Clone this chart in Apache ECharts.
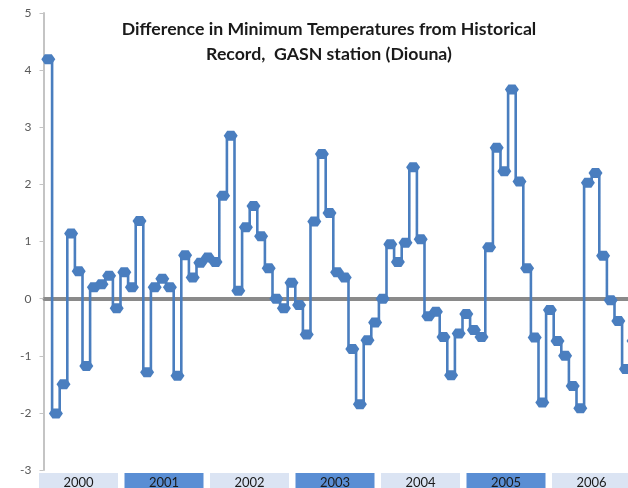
<!DOCTYPE html>
<html>
<head>
<meta charset="utf-8">
<script src="https://cdn.jsdelivr.net/npm/echarts@6/dist/echarts.min.js"></script>
<style>
html,body{margin:0;padding:0;background:#fff;}
#c{width:628px;height:488px;}
</style>
</head>
<body>
<div id="c"></div>
<script>
// Monthly difference values (deg C)
var values = [
  4.19, -2.01, -1.50, 1.14, 0.48, -1.18, 0.20, 0.25, 0.40, -0.17, 0.46, 0.20,
  1.36, -1.29, 0.20, 0.35, 0.20, -1.35, 0.76, 0.37, 0.63, 0.72, 0.64, 1.80,
  2.85, 0.14, 1.25, 1.62, 1.09, 0.53, 0.00, -0.17, 0.28, -0.11, -0.63, 1.35,
  2.53, 1.50, 0.46, 0.37, -0.88, -1.85, -0.73, -0.42, 0.00, 0.95, 0.64, 0.98,
  2.30, 1.04, -0.31, -0.23, -0.67, -1.34, -0.61, -0.27, -0.55, -0.67, 0.90, 2.64,
  2.23, 3.66, 2.05, 0.53, -0.68, -1.82, -0.20, -0.74, -1.00, -1.53, -1.92, 2.03,
  2.20, 0.75, -0.03, -0.39, -1.23, -0.74
];
var years = ['2000', '2001', '2002', '2003', '2004', '2005', '2006'];
var months = [];
for (var i = 0; i < values.length; i++) {
  var y = 2000 + Math.floor(i / 12);
  var m = (i % 12) + 1;
  months.push(y + '-' + (m < 10 ? '0' + m : m));
}
var yTicks = { min: -3, max: 5, interval: 1 };
var titleText = 'Difference in Minimum Temperatures from Historical\nRecord,  GASN station (Diouna)';

var chart = echarts.init(document.getElementById('c'), null, { renderer: 'canvas' });
var band = 7.6;
var gridLeft = 44.5;
var gridWidth = band * months.length;
var yearBand = 85.5;
var yearLeft = 35.75;

chart.setOption({
  animation: false,
  backgroundColor: '#ffffff',
  title: {
    text: titleText,
    left: 324,
    top: 12,
    textAlign: 'center',
    textStyle: {
      fontFamily: 'Lato',
      fontWeight: 'bold',
      fontSize: 17.7,
      color: '#1a1a1a',
      lineHeight: 25
    }
  },
  grid: [
    { left: gridLeft, top: 13, width: gridWidth, height: 457, containLabel: false, outerBoundsMode: 'none' },
    { left: yearLeft, top: 470, width: yearBand * years.length, height: 2, containLabel: false, outerBoundsMode: 'none' }
  ],
  xAxis: [
    {
      type: 'category',
      gridIndex: 0,
      data: months,
      boundaryGap: true,
      axisLine: { onZero: true, lineStyle: { color: '#8a8a8a', width: 4 } },
      axisTick: { show: false },
      axisLabel: { show: false },
      splitLine: { show: false }
    },
    {
      type: 'category',
      gridIndex: 1,
      data: years,
      position: 'bottom',
      axisLine: { show: false },
      axisTick: { show: false },
      splitLine: { show: false },
      axisLabel: {
        interval: 0,
        margin: 1,
        formatter: function (v, idx) { return '{' + (idx % 2 ? 'd' : 'l') + '|' + v + '}'; },
        rich: {
          l: { backgroundColor: '#dbe4f3', width: 79, height: 20, lineHeight: 18, align: 'center', verticalAlign: 'top',
               fontFamily: 'Lato', fontSize: 13, color: '#1a1a1a' },
          d: { backgroundColor: '#5a8ed4', width: 79, height: 20, lineHeight: 18, align: 'center', verticalAlign: 'top',
               fontFamily: 'Lato', fontSize: 13, color: '#1a1a1a' }
        }
      }
    }
  ],
  yAxis: [
    {
      type: 'value',
      gridIndex: 0,
      min: yTicks.min,
      max: yTicks.max,
      interval: yTicks.interval,
      offset: 1,
      axisLine: { show: true, lineStyle: { color: '#c4c4c4', width: 2 } },
      axisTick: { show: true, length: 4, lineStyle: { color: '#c4c4c4', width: 1 } },
      axisLabel: { color: '#595959', fontSize: 12, fontFamily: 'Lato', margin: 12 },
      splitLine: { show: false }
    },
    {
      type: 'value',
      gridIndex: 1,
      show: false
    }
  ],
  series: [
    {
      type: 'line',
      xAxisIndex: 0,
      yAxisIndex: 0,
      data: values,
      step: 'middle',
      symbol: 'path://M0,5 L3.5,0 L10.5,0 L14,5 L10.5,10 L3.5,10 Z',
      symbolSize: [14, 10],
      showAllSymbol: true,
      clip: false,
      lineStyle: { color: '#4a7ebf', width: 2.6 },
      itemStyle: { color: '#4a7ebf' },
      z: 3
    }
  ]
});
</script>
</body>
</html>
